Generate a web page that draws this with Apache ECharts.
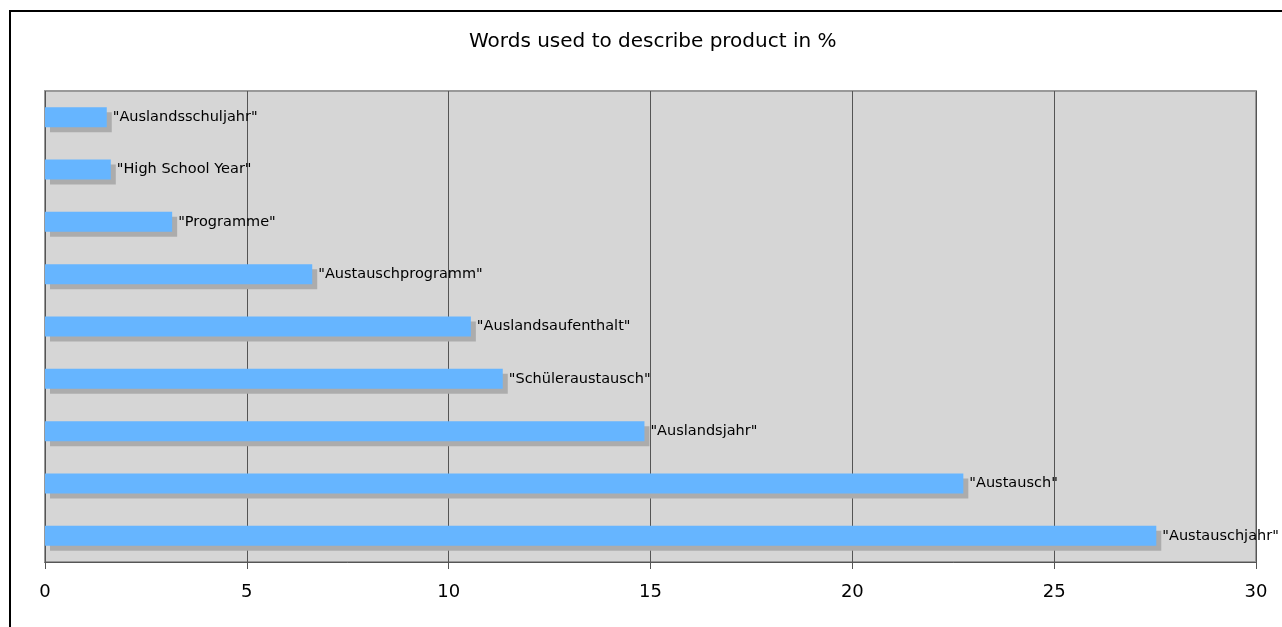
<!DOCTYPE html>
<html>
<head>
<meta charset="utf-8">
<script src="https://cdn.jsdelivr.net/npm/echarts@6/dist/echarts.min.js"></script>
<style>
  html, body { margin: 0; padding: 0; background: #fff; }
  #chart { width: 1282px; height: 627px; }
</style>
</head>
<body>
<div id="chart"></div>
<script>
// words, top to bottom as in the original
const words = ['Auslandsschuljahr', 'High School Year', 'Programme', 'Austauschprogramm',
  'Auslandsaufenthalt', 'Schüleraustausch', 'Auslandsjahr', 'Austausch', 'Austauschjahr']
const percent = [1.53, 1.63, 3.15, 6.62, 10.55, 11.34, 14.85, 22.75, 27.53]
const xTicks = [0, 5, 10, 15, 20, 25, 30]

const font = 'DejaVu Sans, Verdana, sans-serif'
const chart = echarts.init(document.getElementById('chart'))

chart.setOption({
  animation: false,
  textStyle: { fontFamily: font },
  title: {
    text: 'Words used to describe product in %',
    left: 464,
    top: 27,
    textStyle: { fontFamily: font, fontSize: 20, fontWeight: 'normal', color: '#000' }
  },
  graphic: [{
    type: 'rect',
    shape: { x: 10, y: 11, width: 1400, height: 800 },
    style: { fill: 'none', stroke: '#000', lineWidth: 2 },
    z: 100
  }],
  grid: {
    left: 45, right: 26, top: 91, bottom: 65,
    show: true,
    backgroundColor: '#d6d6d6',
    borderColor: '#999',
    borderWidth: 2
  },
  xAxis: {
    type: 'value',
    min: xTicks[0],
    max: xTicks[xTicks.length - 1],
    interval: 5,
    axisLine: { show: true, lineStyle: { color: '#555', width: 1 } },
    axisTick: { show: true, length: 7, lineStyle: { color: '#555' } },
    axisLabel: { color: '#000', fontSize: 18, margin: 21, fontFamily: font },
    splitLine: { show: true, lineStyle: { color: '#555', width: 1 } }
  },
  yAxis: {
    type: 'category',
    inverse: true,
    data: words,
    axisLine: { show: false },
    axisTick: { show: false },
    axisLabel: { show: false },
    splitLine: { show: false }
  },
  series: [{
    type: 'bar',
    data: percent,
    barWidth: 20,
    itemStyle: {
      color: '#66b5ff',
      shadowColor: '#acacac',
      shadowOffsetX: 5,
      shadowOffsetY: 5,
      shadowBlur: 0
    },
    label: {
      show: true,
      position: 'right',
      distance: 6,
      color: '#000',
      fontSize: 14.5,
      fontFamily: font,
      formatter: p => '"' + p.name + '"'
    }
  }]
})
</script>
</body>
</html>
